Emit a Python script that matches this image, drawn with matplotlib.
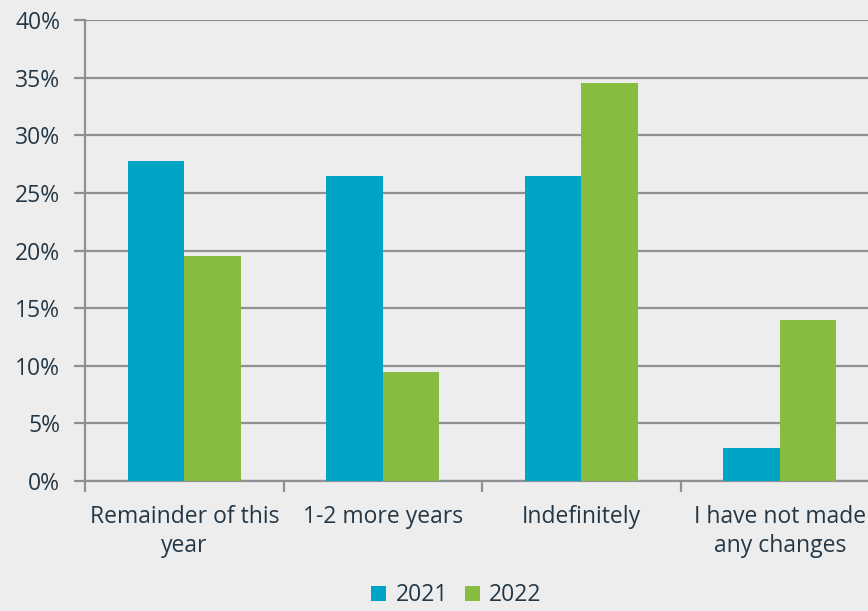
import matplotlib.pyplot as plt
from matplotlib.ticker import FuncFormatter, FixedLocator
import numpy as np

categories = ["Remainder of this\nyear", "1-2 more years", "Indefinitely",
              "I have not made\nany changes"]
series_names = ["2021", "2022"]
values_2021 = [27.8, 26.5, 26.5, 2.9]
values_2022 = [19.5, 9.5, 34.5, 14.0]

bg = "#EDEDED"
text_col = "#243746"
grid_col = "#8E9093"
colors = ["#00A5C6", "#86BC40"]

plt.rcParams["font.family"] = ["Open Sans", "DejaVu Sans"]

fig = plt.figure(figsize=(8.68, 6.11), dpi=100, facecolor=bg)
ax = fig.add_axes([85 / 868, 1 - 481 / 611, 794 / 868, 461 / 611])
ax.set_facecolor(bg)

x = np.arange(len(categories))
w = 0.285
ax.bar(x - w / 2, values_2021, w, color=colors[0], label=series_names[0], zorder=3)
ax.bar(x + w / 2, values_2022, w, color=colors[1], label=series_names[1], zorder=3)

ax.set_xlim(-0.5, len(categories) - 0.5)
ax.set_ylim(0, 40)
ax.set_yticks(np.arange(0, 41, 5))
ax.yaxis.set_major_formatter(FuncFormatter(lambda v, p: f"{v:.0f}%"))
ax.grid(axis="y", color=grid_col, linewidth=1.6, zorder=0)

# category labels in the middle, tick marks on the boundaries
ax.set_xticks(x)
ax.set_xticklabels(categories, linespacing=1.32)
ax.xaxis.set_minor_locator(FixedLocator(np.arange(-0.5, len(categories), 1.0)))
ax.tick_params(axis="x", which="major", length=0, pad=17, labelsize=16.5, labelcolor=text_col)
ax.tick_params(axis="x", which="minor", length=8, width=1.6, color=grid_col)
ax.tick_params(axis="y", length=8, width=1.6, color=grid_col, labelsize=16.5,
               labelcolor=text_col, pad=10)

for side in ["top", "right"]:
    ax.spines[side].set_visible(False)
for side in ["left", "bottom"]:
    ax.spines[side].set_color(grid_col)
    ax.spines[side].set_linewidth(1.6)

fig.legend(loc="lower center", bbox_to_anchor=(0.526, -0.028), ncol=2, frameon=False,
           fontsize=16.5, labelcolor=text_col, handlelength=0.65, handleheight=0.65,
           handletextpad=0.4, columnspacing=0.75)

fig.savefig("out.png", dpi=100, facecolor=bg)
